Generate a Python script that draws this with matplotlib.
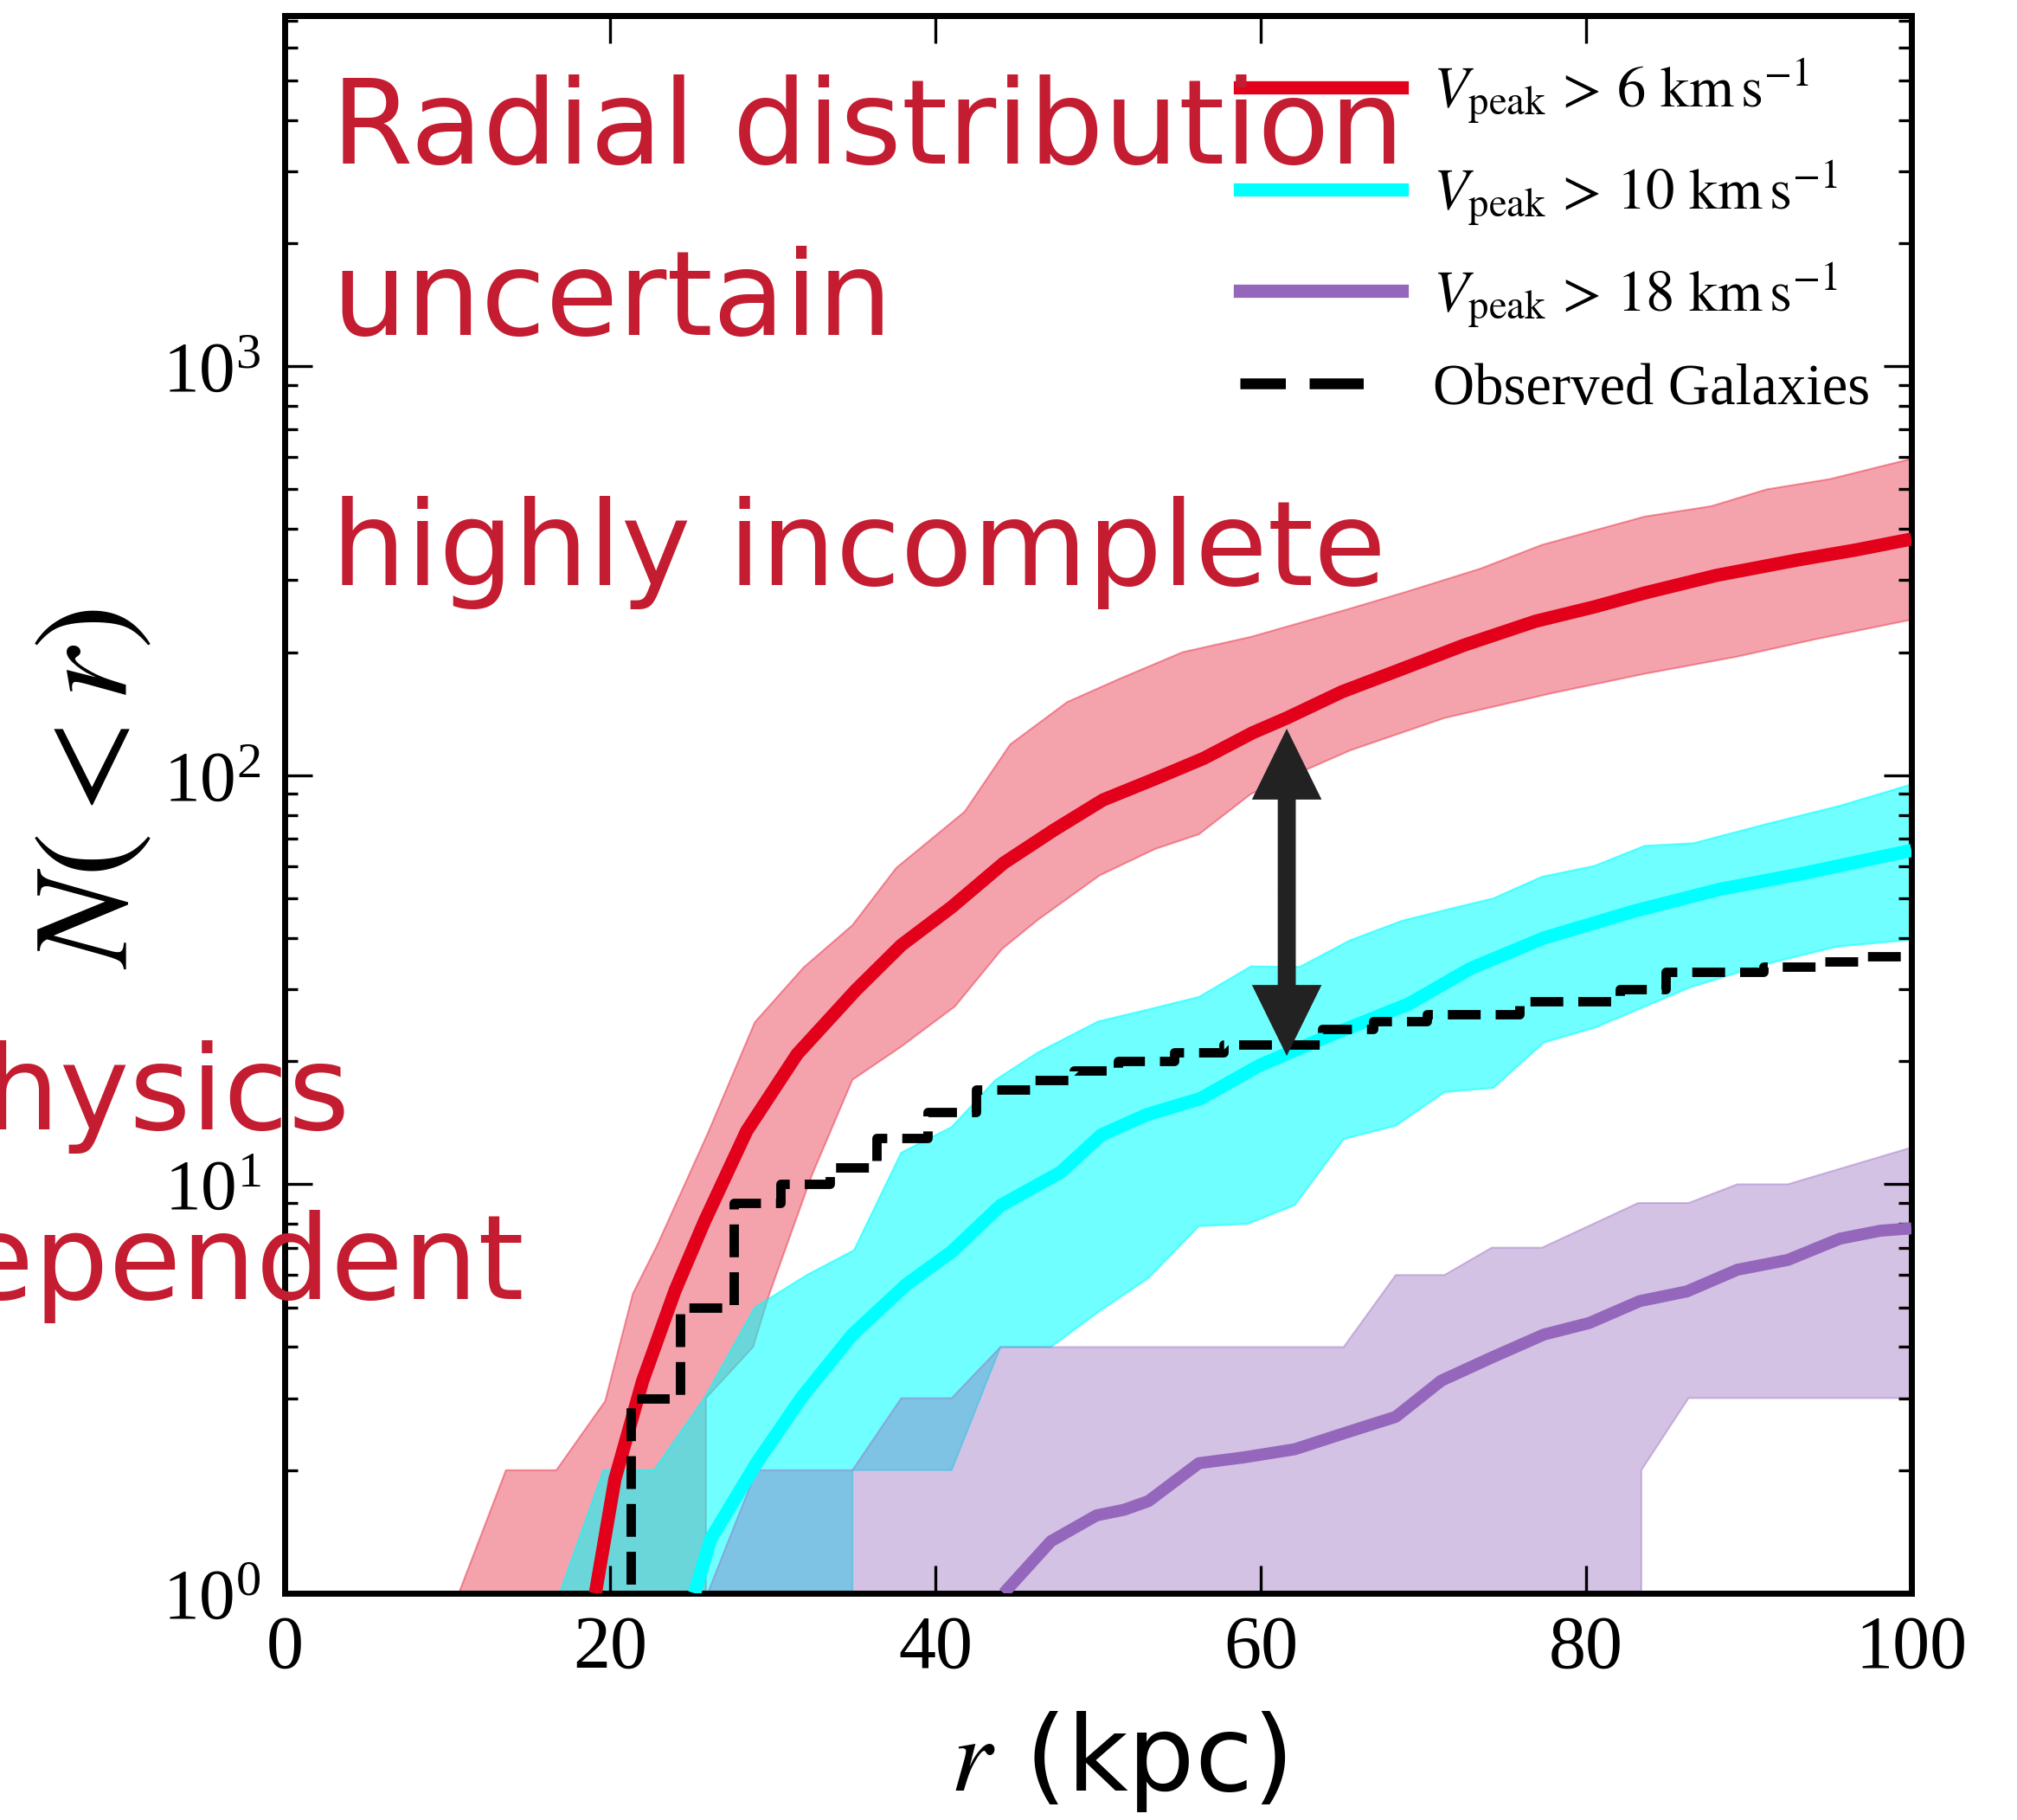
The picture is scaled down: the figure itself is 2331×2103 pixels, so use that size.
import numpy as np
import matplotlib
matplotlib.use('Agg')
import matplotlib.pyplot as plt
from matplotlib.lines import Line2D
from matplotlib.patches import FancyArrowPatch
from matplotlib.ticker import LogLocator, NullFormatter, MultipleLocator

plt.rcParams['font.family'] = 'serif'
plt.rcParams['font.serif'] = ['Liberation Serif', 'DejaVu Serif']
plt.rcParams['mathtext.fontset'] = 'stix'

# ---- data (r in kpc, N(<r)) ----
# V_peak > 6 km/s
r6_med = [19.1, 20.3, 22.0, 24.0, 25.8, 28.4, 31.5, 35.1, 37.9, 41.0, 44.2, 47.3, 50.3, 53.5,
          56.5, 59.5, 61.6, 65.0, 68.7, 72.5, 76.9, 80.5, 83.6, 88.0, 93.0, 96.5, 100]
n6_med = [1.0, 1.9, 3.3, 5.5, 8.1, 13.5, 20.8, 29.8, 38.4, 47.6, 61, 73.5, 87, 98,
          110, 127, 138, 160, 182, 208, 238, 258, 279, 308, 336, 355, 378]
r6_hi = [10.7, 13.6, 16.7, 19.7, 21.4, 22.9, 26.0, 28.9, 31.9, 34.9, 37.6, 41.8, 44.6, 48.1,
         51.3, 55.2, 59.4, 65.4, 68.7, 73.5, 77.3, 83.6, 87.7, 91.1, 95.0, 100]
n6_hi = [1.0, 2.0, 2.0, 2.95, 5.4, 7.1, 13.3, 24.9, 33.9, 43, 59.4, 81.5, 119, 151,
         172, 200, 218, 255, 279, 320, 366, 429, 455, 500, 530, 594]
r6_lo = [10.7, 25.9, 25.9, 28.8, 29.8, 32.4, 34.9, 37.9, 41.2, 44.1, 46.3, 50.1, 53.5, 56.2,
         59.4, 65.5, 71.3, 78.0, 83.6, 89.3, 94.1, 100]
n6_lo = [0.5, 0.5, 3.0, 4.0, 5.4, 10.5, 18.0, 21.7, 27.2, 37.6, 44.3, 56.9, 66, 71.7,
         90, 115, 138, 159, 177, 195, 215, 240]

# V_peak > 10 km/s
r10_med = [25.2, 26.2, 29.0, 31.8, 34.9, 38.2, 41.0, 44.0, 47.7, 50.2, 53.0, 56.3, 59.9, 64.0,
           69.1, 72.9, 77.4, 83.0, 88.2, 93.3, 100]
n10_med = [1.0, 1.36, 2.08, 3.02, 4.29, 5.68, 6.84, 8.87, 10.7, 13.2, 14.8, 16.2, 19.5, 22.9,
           27.6, 33.7, 40.0, 46.6, 52.6, 57.5, 65.5]
r10_hi = [16.9, 19.6, 22.7, 25.8, 28.9, 32.1, 35.0, 37.9, 41.0, 43.7, 46.3, 50.0, 53.0, 56.2,
          59.4, 62.4, 65.5, 68.7, 71.5, 74.3, 77.3, 80.5, 83.6, 86.6, 91.1, 95.6, 100]
n10_hi = [1.0, 2.0, 2.0, 3.0, 5.0, 6.0, 6.9, 11.95, 13.8, 18.0, 21.0, 25.0, 26.7, 28.7,
          34.1, 34.0, 39.5, 44.1, 47, 50.0, 56.5, 60, 67.2, 68.2, 76.0, 84.2, 95]
r10_lo = [16.9, 34.9, 34.9, 41.0, 44.0, 47.1, 50.1, 53.1, 56.2, 59.2, 62.1, 65.1, 68.3, 71.3,
          74.3, 77.4, 80.6, 86.4, 90.9, 95.4, 100]
n10_lo = [0.5, 0.5, 2, 2, 4, 4, 4.9, 5.9, 7.9, 8.0, 8.9, 12.9, 13.9, 16.8,
          17.2, 22.2, 24.2, 30.3, 34.4, 38.1, 39.6]

# V_peak > 18 km/s
r18_med = [44.2, 47.1, 49.9, 51.6, 53.1, 56.2, 59.0, 62.1, 65.1, 68.3, 71.1, 74.2, 77.4, 80.2,
           83.3, 86.2, 89.3, 92.4, 95.6, 98.1, 100]
n18_med = [1.0, 1.34, 1.55, 1.6, 1.68, 2.08, 2.15, 2.25, 2.46, 2.70, 3.31, 3.77, 4.29, 4.58,
           5.18, 5.47, 6.18, 6.53, 7.36, 7.7, 7.8]
r18_hi = [26.0, 29.0, 34.9, 37.9, 41.0, 44.0, 65.1, 68.3, 71.3, 74.2, 77.3, 83.2, 86.3, 89.3, 92.4, 100]
n18_hi = [1.0, 2.0, 2.0, 3.0, 3.0, 4.0, 4.0, 6.0, 6.0, 7.0, 7.0, 9.0, 9.0, 10.0, 10.0, 12.3]
r18_lo = [26.0, 83.4, 83.4, 86.3, 100]
n18_lo = [0.5, 0.5, 2.0, 3.0, 3.0]

# observed galaxies (cumulative counts, step at each r)
r_obs = [0, 21.3, 24.3, 27.6, 30.5, 33.5, 36.4, 39.5, 42.5, 46.0, 48.5, 51.2, 54.7, 57.7,
         63.8, 66.9, 70.2, 75.9, 82.1, 84.9, 90.9, 94.4, 97.3, 100]
n_obs = [0.5, 3, 5, 9, 10, 11, 13, 15, 17, 18, 19, 20, 21, 22,
         24, 25, 26, 28, 30, 33, 34, 35, 36, 36]

# arrow showing the gap
arrow_r = 61.6
arrow_lo = 20.6
arrow_hi = 130

labels = [r'$V_{\mathrm{peak}}\,>\,6\ \mathrm{km\,s}^{-1}$',
          r'$V_{\mathrm{peak}}\,>\,10\ \mathrm{km\,s}^{-1}$',
          r'$V_{\mathrm{peak}}\,>\,18\ \mathrm{km\,s}^{-1}$',
          'Observed Galaxies']

red = '#E2001A'
cyan = '#00FFFF'
purple = '#9467BD'
note_red = '#C41C30'

W, H = 2331, 2103
fig = plt.figure(figsize=(W / 100, H / 100), dpi=100)
ax = fig.add_axes([329 / W, 1 - 1841 / H, (2209 - 329) / W, (1841 - 18) / H])


def band(x_hi, y_hi, x_lo, y_lo, color, alpha):
    xs = np.r_[x_hi, x_lo[::-1]]
    ys = np.r_[y_hi, y_lo[::-1]]
    ax.fill(xs, ys, facecolor=color, edgecolor=color, alpha=alpha, lw=1.5, zorder=1)


band(r6_hi, n6_hi, r6_lo, n6_lo, red, 0.36)
band(r10_hi, n10_hi, r10_lo, n10_lo, cyan, 0.56)
band(r18_hi, n18_hi, r18_lo, n18_lo, purple, 0.4)

ax.plot(r6_med, n6_med, color=red, lw=11, solid_capstyle='butt', zorder=3)
ax.plot(r10_med, n10_med, color=cyan, lw=11, solid_capstyle='butt', zorder=3)
ax.plot(r18_med, n18_med, color=purple, lw=10, solid_capstyle='butt', zorder=3)
ax.plot(r_obs, n_obs, color='black', lw=7.8, drawstyle='steps-post', dashes=(3.5, 1.6), zorder=4)

# double headed arrow, made of two single arrows meeting in the middle
arrow_mid = np.sqrt(arrow_lo * arrow_hi)
for tip in (arrow_hi, arrow_lo):
    ax.add_patch(FancyArrowPatch((arrow_r, arrow_mid), (arrow_r, tip), shrinkA=0, shrinkB=0,
                                 arrowstyle='simple,head_length=5.9,head_width=5.8,tail_width=1.5',
                                 mutation_scale=10, color='#222222', lw=0, zorder=6))

ax.set_yscale('log')
ax.set_xlim(0, 100)
ax.set_ylim(1, 7200)
ax.xaxis.set_major_locator(MultipleLocator(20))
ax.yaxis.set_major_locator(LogLocator(base=10))
ax.yaxis.set_minor_locator(LogLocator(base=10, subs=np.arange(2, 10)))
ax.yaxis.set_minor_formatter(NullFormatter())

for s in ax.spines.values():
    s.set_linewidth(5)
ax.tick_params(which='both', direction='in', top=True, right=True, width=2.4)
ax.tick_params(which='major', length=23)
ax.tick_params(which='minor', length=11)
ax.tick_params(axis='x', labelsize=62, pad=18)
ax.tick_params(axis='y', labelsize=60, pad=20)

handles = [Line2D([], [], color=red, lw=11),
           Line2D([], [], color=cyan, lw=11),
           Line2D([], [], color=purple, lw=11),
           Line2D([], [], color='black', lw=9, linestyle=(0.8, (5.0, 2.2, 5.0, 20)))]
ax.legend(handles, labels, loc='upper left', bbox_to_anchor=(1433 / W, 1 - 66 / H),
          bbox_transform=fig.transFigure, frameon=False, fontsize=48, handlelength=2.8,
          handletextpad=0.55, labelspacing=0.58, borderpad=0, borderaxespad=0)

fig.text(109 / W, 1 - 912 / H, r'$N(<r)$', fontsize=112, rotation=90, ha='center', va='center')
fig.text(1292 / W, 1 - 2069 / H, r'$r$ (kpc)', fontsize=88, family='DejaVu Sans',
         ha='center', va='baseline')

# red annotations
notes = dict(fontsize=98, family='DejaVu Sans', color=note_red, va='baseline')
fig.text(383 / W, 1 - 189 / H, 'Radial distribution', ha='left', zorder=2, **notes)
fig.text(383 / W, 1 - 387 / H, 'uncertain', ha='left', zorder=2, **notes)
fig.text(383 / W, 1 - 676 / H, 'highly incomplete', ha='left', zorder=2, **notes)
fig.text(405 / W, 1 - 1305 / H, 'physics', ha='right', zorder=2, **notes)
fig.text(606 / W, 1 - 1501 / H, 'dependent', ha='right', zorder=2, **notes)

fig.savefig('out.png', dpi=100)
